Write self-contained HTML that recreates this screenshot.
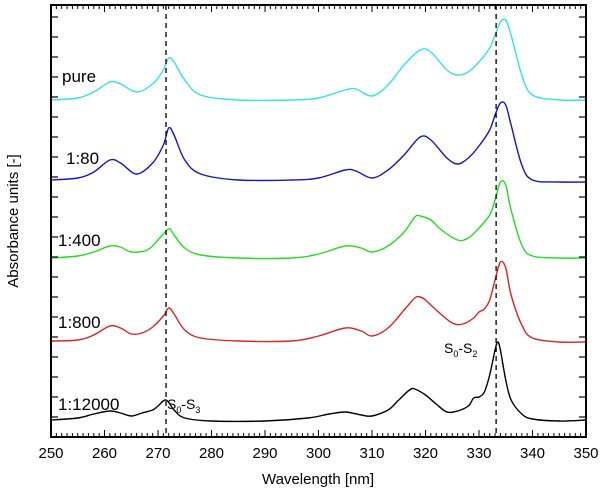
<!DOCTYPE html>
<html><head><meta charset="utf-8"><style>
html,body{margin:0;padding:0;background:#fff}
svg text{font-family:"Liberation Sans",Arial,sans-serif;fill:#000}
</style></head><body>
<svg id="chart" width="600" height="495" viewBox="0 0 600 495" xmlns="http://www.w3.org/2000/svg">
<g id="marks"></g>
<g id="axes"></g>
<text x="318" y="484" font-size="15" text-anchor="middle">Wavelength [nm]</text>
<text transform="translate(18,221) rotate(-90)" font-size="15" text-anchor="middle">Absorbance units [-]</text>
<text x="62" y="82" font-size="17">pure</text>
<text x="66" y="164" font-size="17">1:80</text>
<text x="58" y="246" font-size="17">1:400</text>
<text x="58" y="328" font-size="17">1:800</text>
<text x="58" y="410" font-size="17">1:12000</text>
<text x="167" y="409" font-size="14">S<tspan font-size="9" dy="4">0</tspan><tspan dy="-4">-S</tspan><tspan font-size="9" dy="4">3</tspan></text>
<text x="444" y="353" font-size="14">S<tspan font-size="9" dy="4">0</tspan><tspan dy="-4">-S</tspan><tspan font-size="9" dy="4">2</tspan></text>
</svg>
<script>
const xTicks=[250,260,270,280,290,300,310,320,330,340,350];
const markers=[271.5,333.2];
const wlBlack=[250,255,258,261,263,265,267,269,270,271.5,273,275,280,290,298,302,305,308,310,313,315,317,318,320,322,324,326,328,329,330,331,332,333,333.5,334,335,336,338,340,345,350];
const valBlack=[17,19,23,26,24,21,24,27,31,37,27,19,16,16,19,23,25,22,21,27,37,47,48,42,33,25,26,31,39,40,45,62,87,95,87,57,37,23,18,16,17];
const wlRed=[250,255,258,261,263,265,267,269,271,272,273,275,278,285,295,300,305,308,310,313,316,318,319,320,322,325,327,329,330,331,332,333,334,335,336,338,340,345,350];
const valRed=[96,97,102,111,109,103,104,110,121,129,123,107,99,96,96,101,109,106,101,109,127,139,140,137,127,114,113,119,125,128,137,157,175,169,142,112,99,95,95];
const wlGreen=[250,255,258,261,263,265,268,270,272,273,275,278,285,295,300,305,308,310,313,316,318,319,321,323,326,328,330,332,333,334,335,336,338,340,345,350];
const valGreen=[179,181,185,191,190,185,187,197,208,202,189,182,179,179,183,191,189,185,191,205,220,221,217,207,197,199,209,222,237,255,252,227,192,181,179,179];
const wlBlue=[250,255,258,261,263,266,269,271,272,273,275,278,285,295,300,305,307,310,313,316,319,321,324,326,328,330,332,333,334,335,336,338,340,345,350];
const valBlue=[257,259,265,277,274,263,274,292,309,302,277,263,257,257,259,267,266,259,267,282,300,297,279,273,279,291,307,322,334,332,312,272,257,255,255];
const wlCyan=wlBlue;
const valCyan=[337,339,345,355,353,345,353,367,379,375,357,342,337,337,339,347,348,341,352,372,387,385,367,362,365,375,389,402,415,417,402,362,342,337,337];

const L=51,R=586,T=5,B=437;
const X=w=>L+(w-250)/100*(R-L);
const Y=v=>B-v;
const NS="http://www.w3.org/2000/svg";
function mk(tag,attrs,parent){const e=document.createElementNS(NS,tag);for(const k in attrs)e.setAttribute(k,attrs[k]);parent.appendChild(e);return e;}
const axes=document.getElementById('axes'),marks=document.getElementById('marks');
function smoothPath(xs,ys){
  const p=xs.map((w,i)=>[X(w),Y(ys[i])]);
  let d="M"+p[0][0]+","+p[0][1];
  for(let i=0;i<p.length-1;i++){
    const p0=p[Math.max(0,i-1)],p1=p[i],p2=p[i+1],p3=p[Math.min(p.length-1,i+2)];
    const c1=[p1[0]+(p2[0]-p0[0])/6,p1[1]+(p2[1]-p0[1])/6];
    const c2=[p2[0]-(p3[0]-p1[0])/6,p2[1]-(p3[1]-p1[1])/6];
    d+=` C${c1[0]},${c1[1]} ${c2[0]},${c2[1]} ${p2[0]},${p2[1]}`;
  }
  return d;
}
const series=[[wlCyan,valCyan,'#33e3e3','series-pure'],[wlBlue,valBlue,'#1414c8','series-1-80'],[wlGreen,valGreen,'#22dd22','series-1-400'],[wlRed,valRed,'#dd2222','series-1-800'],[wlBlack,valBlack,'#000000','series-1-12000']];
series.forEach(s=>{
  const p=mk('path',{d:smoothPath(s[0],s[1]),fill:'none',stroke:s[2],'stroke-width':1.4},marks);
  
  
});
markers.forEach(m=>{
  const l=mk('line',{x1:X(m),x2:X(m),y1:T,y2:B,stroke:'#000','stroke-width':1.3,'stroke-dasharray':'5,4'},marks);
  
  
});
const frame=mk('rect',{x:L,y:T,width:R-L,height:B-T,fill:'none',stroke:'#000','stroke-width':2},axes);


for(let w=250;w<=350;w++){
  const big=w%10===0,len=big?7:4;
  mk('line',{x1:X(w),x2:X(w),y1:B,y2:B-len,stroke:'#000','stroke-width':1},axes);
  mk('line',{x1:X(w),x2:X(w),y1:T,y2:T+len,stroke:'#000','stroke-width':1},axes);
}
xTicks.forEach(t=>{
  const tx=mk('text',{x:X(t),y:B+21,'font-size':15,'text-anchor':'middle'},axes);
  tx.textContent=t;
  
  
});
for(let v=20;v<B-T;v+=20){
  mk('line',{x1:L,x2:L+7,y1:Y(v),y2:Y(v),stroke:'#000','stroke-width':1.2},axes);
  mk('line',{x1:R,x2:R-7,y1:Y(v),y2:Y(v),stroke:'#000','stroke-width':1.2},axes);
}
</script>
</body></html>
